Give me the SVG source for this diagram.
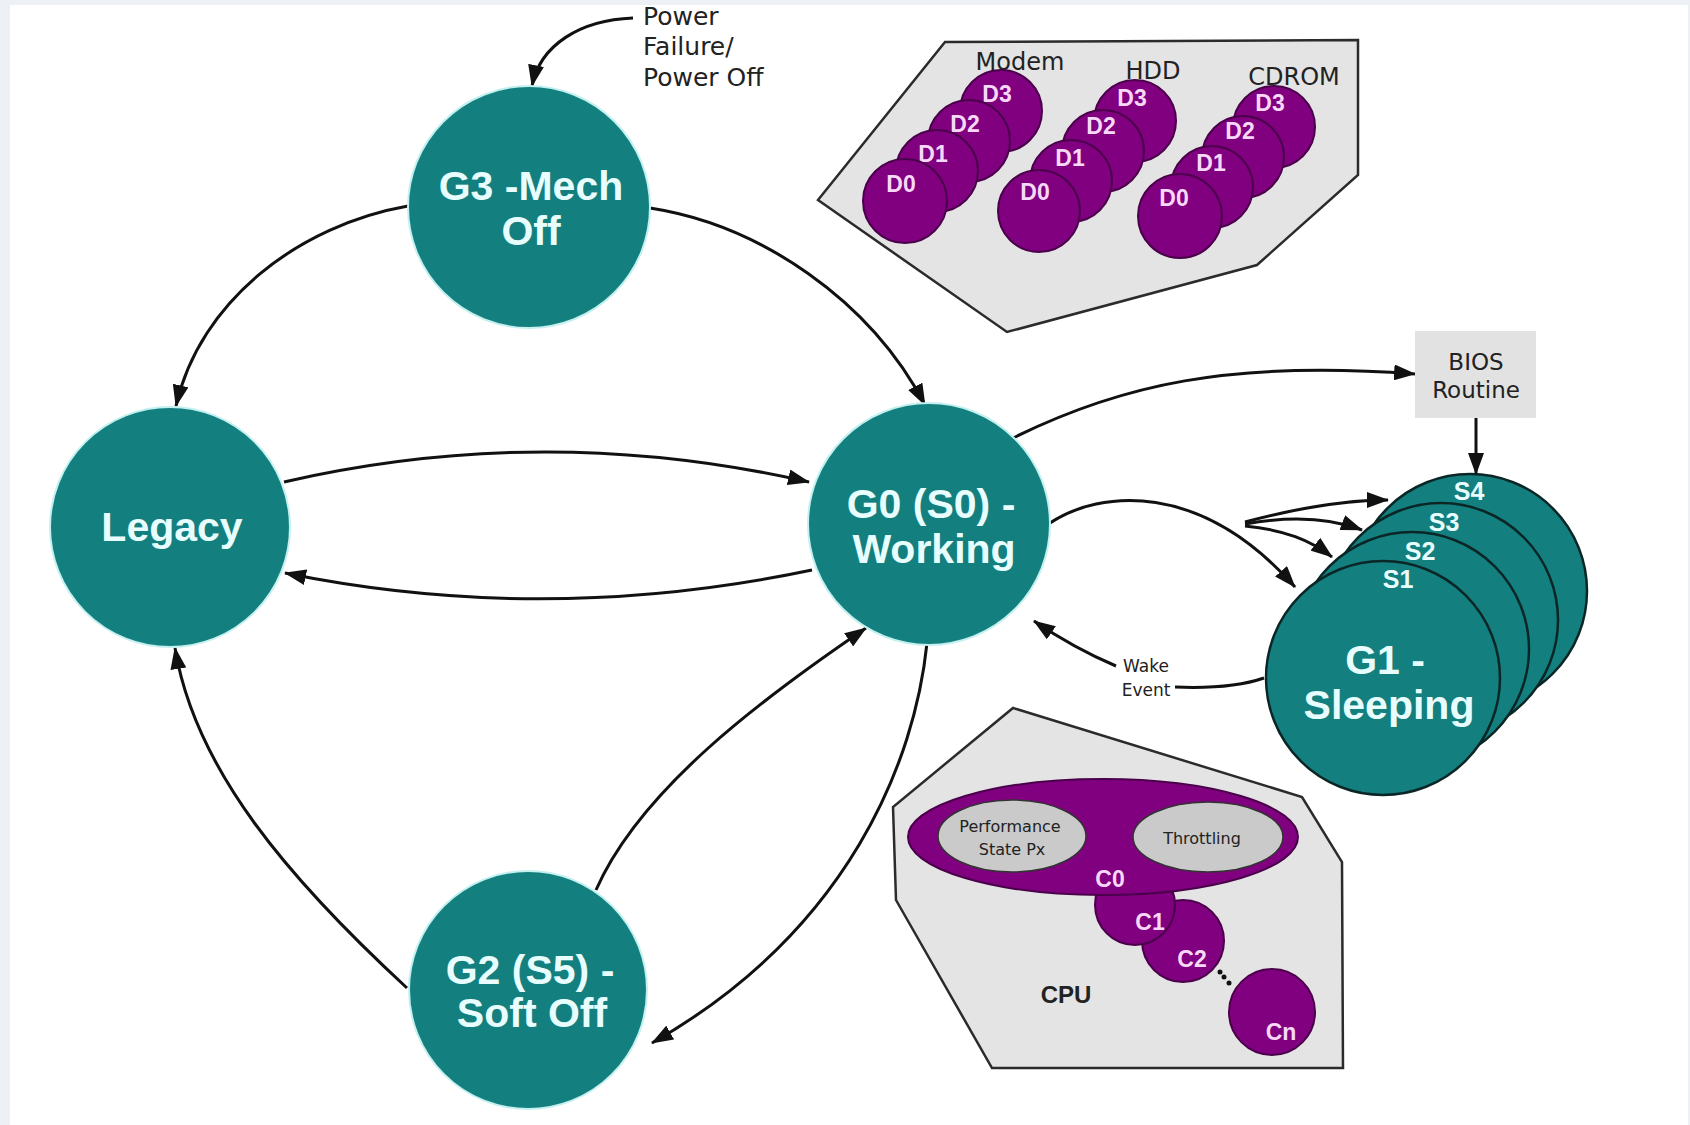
<svg xmlns="http://www.w3.org/2000/svg" width="1690" height="1125" viewBox="0 0 1690 1125">
<defs>
  <marker id="arr" viewBox="0 0 22 16" refX="21" refY="8" markerWidth="22" markerHeight="16" markerUnits="userSpaceOnUse" orient="auto">
    <path d="M0 0 L22 8 L0 16 z" fill="#111"/>
  </marker>
</defs>
<style>
  .bg{fill:#edf0f4}
  .sheet{fill:#ffffff}
  .node{fill:#13807f;stroke:#c4f0f0;stroke-width:2}
  .sleep{fill:#13807f;stroke:#0b2626;stroke-width:2.5}
  .nt{font-family:"Liberation Sans",Arial,sans-serif;font-weight:bold;font-size:41px;fill:#e8fdfd;text-anchor:middle}
  .st{font-family:"Liberation Sans",Arial,sans-serif;font-weight:bold;font-size:25px;fill:#e8fdfd;text-anchor:middle}
  .panel{fill:#e4e4e4;stroke:#2b2b2b;stroke-width:2.5;stroke-linejoin:miter}
  .dev{fill:#800080;stroke:#4a004a;stroke-width:2}
  .dt{font-family:"Liberation Sans",Arial,sans-serif;font-weight:bold;font-size:23px;fill:#f8d8f8;text-anchor:middle}
  .inner{fill:#cacaca;stroke:#333;stroke-width:1.5}
  .lbl{font-family:"DejaVu Sans","Liberation Sans",sans-serif;fill:#222}
  .mid{text-anchor:middle}
  .edge{fill:none;stroke:#111;stroke-width:3;marker-end:url(#arr)}
  .plain{fill:none;stroke:#111;stroke-width:3}
</style>

<!-- page -->
<rect class="bg" x="0" y="0" width="1690" height="1125"/>
<rect class="sheet" x="10" y="5" width="1678" height="1120"/>

<!-- device power states panel -->
<g id="devices">
  <polygon class="panel" points="818,200 945,42 1358,40 1358,175 1257,265 1007,332"/>
  <text class="lbl mid" x="1020" y="70" font-size="24">Modem</text>
  <text class="lbl mid" x="1153" y="79" font-size="24">HDD</text>
  <text class="lbl mid" x="1294" y="85" font-size="24">CDROM</text>
  <g id="modem">
    <circle class="dev" cx="1001" cy="111" r="41"/><text class="dt" x="997" y="102">D3</text>
    <circle class="dev" cx="969" cy="141" r="41"/><text class="dt" x="965" y="132">D2</text>
    <circle class="dev" cx="937" cy="171" r="41"/><text class="dt" x="933" y="162">D1</text>
    <circle class="dev" cx="905" cy="201" r="42"/><text class="dt" x="901" y="192">D0</text>
  </g>
  <g id="hdd">
    <circle class="dev" cx="1135" cy="121" r="41"/><text class="dt" x="1132" y="106">D3</text>
    <circle class="dev" cx="1103" cy="151" r="41"/><text class="dt" x="1101" y="134">D2</text>
    <circle class="dev" cx="1071" cy="181" r="41"/><text class="dt" x="1070" y="166">D1</text>
    <circle class="dev" cx="1039" cy="211" r="41"/><text class="dt" x="1035" y="200">D0</text>
  </g>
  <g id="cdrom">
    <circle class="dev" cx="1274" cy="127" r="41"/><text class="dt" x="1270" y="111">D3</text>
    <circle class="dev" cx="1243" cy="157" r="41"/><text class="dt" x="1240" y="139">D2</text>
    <circle class="dev" cx="1212" cy="187" r="41"/><text class="dt" x="1211" y="171">D1</text>
    <circle class="dev" cx="1180" cy="216" r="42"/><text class="dt" x="1174" y="206">D0</text>
  </g>
</g>

<!-- processor power states panel -->
<g id="cpu">
  <polygon class="panel" points="1013,708 1302,797 1342,862 1343,1068 992,1068 896,900 893,807"/>
  <circle class="dev" cx="1183" cy="941" r="41"/>
  <circle class="dev" cx="1135" cy="905" r="40"/>
  <ellipse class="dev" cx="1103" cy="837" rx="195" ry="58"/>
  <ellipse class="inner" cx="1012" cy="836" rx="74" ry="36"/>
  <ellipse class="inner" cx="1208" cy="837" rx="75" ry="35"/>
  <text class="lbl mid" x="1010" y="832" font-size="16" fill="#333">Performance</text>
  <text class="lbl mid" x="1012" y="855" font-size="16" fill="#333">State Px</text>
  <text class="lbl mid" x="1202" y="844" font-size="16" fill="#333">Throttling</text>
  <text class="dt" x="1110" y="887" font-size="24">C0</text>
  <text class="dt" x="1150" y="930" font-size="24">C1</text>
  <text class="dt" x="1192" y="967" font-size="24">C2</text>
  <circle cx="1220" cy="972" r="2.5" fill="#111"/>
  <circle cx="1224" cy="977" r="2.5" fill="#111"/>
  <circle cx="1229" cy="983" r="2.5" fill="#111"/>
  <circle class="dev" cx="1272" cy="1012" r="43"/>
  <text class="dt" x="1281" y="1040" font-size="24">Cn</text>
  <text x="1066" y="1003" font-family="Liberation Sans, Arial, sans-serif" font-weight="bold" font-size="24" fill="#222" text-anchor="middle">CPU</text>
</g>

<!-- transitions -->
<g id="connectors">
  <path class="edge" d="M633 18 C580 20 540 45 532 86"/>
  <path class="edge" d="M408 206 C300 225 200 300 176 406"/>
  <path class="edge" d="M650 208 C760 225 870 300 925 405"/>
  <path class="edge" d="M284 482 Q545 422 809 482"/>
  <path class="edge" d="M812 570 Q545 626 285 573"/>
  <path class="edge" d="M407 988 C290 880 195 770 175 648"/>
  <path class="edge" d="M596 890 C640 790 760 700 866 628"/>
  <path class="edge" d="M927 643 C915 760 850 930 652 1043"/>
  <path class="edge" d="M1013 438 C1120 385 1230 360 1415 374"/>
  <path class="edge" d="M1476 418 L1476 474"/>
  <path class="edge" d="M1050 523 C1100 490 1200 480 1295 587"/>
  <path class="edge" d="M1245 522 C1290 510 1340 500 1388 500"/>
  <path class="edge" d="M1245 524 C1290 516 1330 518 1362 530"/>
  <path class="edge" d="M1245 526 C1285 530 1310 540 1332 557"/>
  <path class="plain" d="M1264 678 C1235 688 1200 688 1175 687"/>
  <path class="edge" d="M1116 666 C1090 655 1062 640 1034 621"/>
</g>

<!-- transition labels -->
<g id="labels">
  <text class="lbl" font-size="25"><tspan x="643" y="25">Power</tspan><tspan x="643" y="55">Failure/</tspan><tspan x="643" y="86">Power Off</tspan></text>
  <text class="lbl mid" font-size="17"><tspan x="1146" y="672">Wake</tspan><tspan x="1146" y="696">Event</tspan></text>
</g>

<g id="bios">
  <rect x="1415" y="331" width="121" height="87" fill="#e2e2e2"/>
  <text class="lbl mid" font-size="23" fill="#333"><tspan x="1476" y="370">BIOS</tspan><tspan x="1476" y="398">Routine</tspan></text>
</g>

<g id="g3">
  <circle class="node" cx="529" cy="207" r="121"/>
  <text class="nt"><tspan x="531" y="200">G3 -Mech</tspan><tspan x="531" y="245">Off</tspan></text>
</g>

<g id="legacy">
  <circle class="node" cx="170" cy="527" r="120"/>
  <text class="nt" x="172" y="541">Legacy</text>
</g>

<g id="g0">
  <circle class="node" cx="929" cy="524" r="121"/>
  <text class="nt"><tspan x="931" y="518">G0 (S0) -</tspan><tspan x="934" y="563">Working</tspan></text>
</g>

<g id="g2">
  <circle class="node" cx="528" cy="990" r="119"/>
  <text class="nt"><tspan x="530" y="984">G2 (S5) -</tspan><tspan x="532" y="1027">Soft Off</tspan></text>
</g>

<g id="g1">
  <circle class="sleep" cx="1470" cy="591" r="117"/>
  <text class="st" x="1469" y="500">S4</text>
  <circle class="sleep" cx="1441" cy="620" r="117"/>
  <text class="st" x="1444" y="531">S3</text>
  <circle class="sleep" cx="1412" cy="649" r="117"/>
  <text class="st" x="1420" y="560">S2</text>
  <circle class="sleep" cx="1383" cy="678" r="117"/>
  <text class="st" x="1398" y="588">S1</text>
  <text class="nt"><tspan x="1385" y="674">G1 -</tspan><tspan x="1389" y="719">Sleeping</tspan></text>
</g>
</svg>
